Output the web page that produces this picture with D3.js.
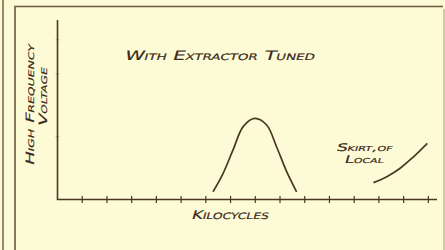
<!DOCTYPE html>
<html>
<head>
<meta charset="utf-8">
<script src="https://cdn.jsdelivr.net/npm/d3@7"></script>
<style>
  html, body { margin: 0; padding: 0; background: #fdfbd6; }
  svg { display: block; }
  .lbl { font-family: "DejaVu Sans", sans-serif; font-variant: small-caps; fill: #3a281a; stroke: #3a281a; stroke-width: 0.15; }
</style>
</head>
<body>
<div id="chart"></div>
<script>
// response curve with the extractor tuned (kilocycle units, arbitrary voltage)
const peakKc = [6.29, 6.70, 7.10, 7.51, 7.98, 8.46, 8.86, 9.27, 9.67];
const peakV  = [0.43, 1.46, 2.76, 4.06, 4.52, 4.15, 2.94, 1.55, 0.43];

// skirt of the local station
const skirtKc = [12.78, 13.32, 13.86, 14.40, 14.96];
const skirtV  = [0.94, 1.27, 1.74, 2.38, 3.13];

const xTicks = d3.range(1, 16);
const yTicks = [3.5, 7.0, 8.9];

const width = 445, height = 250;
const ink = '#4a3724';

const svg = d3.select('#chart').append('svg')
    .attr('width', width)
    .attr('height', height);

// paper frame
const frame = svg.append('g').attr('stroke', '#6b5840').attr('fill', 'none');
frame.append('line').attr('x1', 3).attr('x2', 3).attr('y1', 0).attr('y2', height).attr('stroke-width', 1.4);
frame.append('path').attr('d', `M15,${height}V6.5H443`).attr('stroke-width', 1.6);
frame.append('line').attr('x1', 444).attr('x2', 444).attr('y1', 9).attr('y2', height).attr('stroke-width', 1).attr('opacity', 0.6);

const x = d3.scaleLinear().domain([0, 15.35]).range([57.5, 437]);
const y = d3.scaleLinear().domain([0, 10]).range([199.5, 20]);

// axes
svg.append('path')
    .attr('d', `M${x(0)},${y(10)}V${y(0)}H${x(15.35)}`)
    .attr('fill', 'none')
    .attr('stroke', ink)
    .attr('stroke-width', 1.6);

svg.append('g').selectAll('line')
    .data(xTicks)
    .join('line')
    .attr('x1', d => x(d)).attr('x2', d => x(d))
    .attr('y1', y(0) - 3.5).attr('y2', y(0) + 3.5)
    .attr('stroke', ink)
    .attr('stroke-width', 1.2);

svg.append('g').selectAll('line')
    .data(yTicks)
    .join('line')
    .attr('x1', x(0) - 2).attr('x2', x(0) + 2)
    .attr('y1', d => y(d)).attr('y2', d => y(d))
    .attr('stroke', ink)
    .attr('opacity', 0.25)
    .attr('stroke-width', 1.2);

const line = d3.line()
    .x(d => x(d[0]))
    .y(d => y(d[1]))
    .curve(d3.curveCatmullRom.alpha(0.5));

svg.append('path')
    .datum(d3.zip(peakKc, peakV))
    .attr('d', line)
    .attr('fill', 'none')
    .attr('stroke', ink)
    .attr('stroke-width', 1.7);

svg.append('path')
    .datum(d3.zip(skirtKc, skirtV))
    .attr('d', line)
    .attr('fill', 'none')
    .attr('stroke', ink)
    .attr('stroke-width', 1.7);

// hand lettering: slanted small caps
function letter(tx, ty, rot, size, len, str) {
    svg.append('text').attr('class', 'lbl')
        .attr('transform', `translate(${tx},${ty}) rotate(${rot}) skewX(-16)`)
        .attr('font-size', size)
        .attr('textLength', len).attr('lengthAdjust', 'spacingAndGlyphs')
        .text(str);
}

letter(124, 59.5, 0, 13, 190, 'With Extractor Tuned');
letter(191, 219, 0, 12, 77, 'Kilocycles');
letter(336, 150.5, 0, 10.5, 56, 'Skirt,of');
letter(344, 163, 0, 10.5, 39, 'Local');
letter(34, 166, -90, 11.5, 121, 'High Frequency');
letter(47, 127, -90, 11.5, 59, 'Voltage');
</script>
</body>
</html>
